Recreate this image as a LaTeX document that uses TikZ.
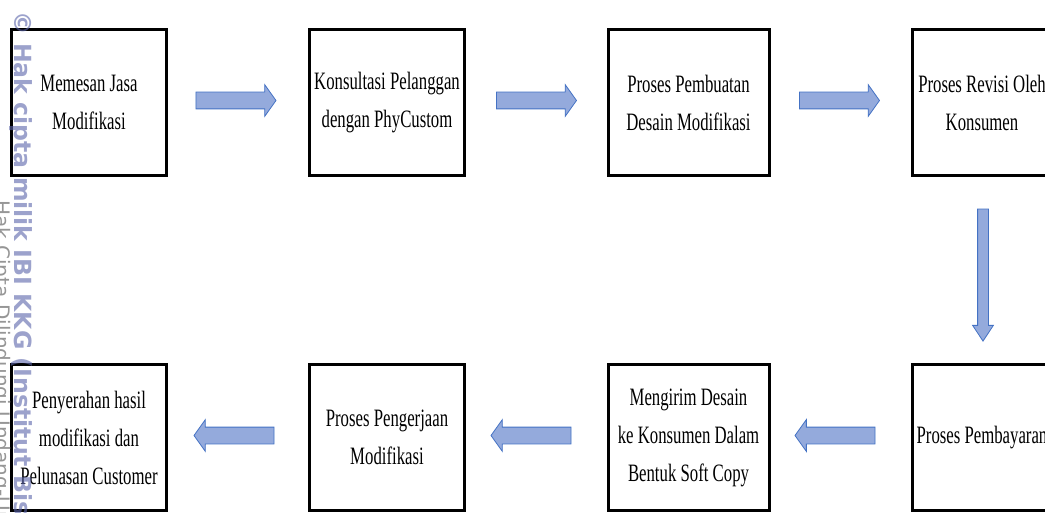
\documentclass[tikz,border=0pt]{standalone}
\usepackage{fontspec}
\setmainfont{Liberation Serif}[FakeStretch=0.67]
\newfontfamily\wmfont{DejaVu Sans}
\usetikzlibrary{shapes.arrows}
\definecolor{arrowfill}{RGB}{148,170,220}
\definecolor{arrowline}{RGB}{68,114,196}
\definecolor{wmblue}{RGB}{90,100,170}
\definecolor{wmgray}{RGB}{150,150,150}
\begin{document}
\begin{tikzpicture}[x=1pt,y=-1pt,
  box/.style={draw=black, line width=3pt, minimum height=146pt, inner sep=0pt,
    align=center, font=\fontsize{25}{38}\selectfont},
  blockarrow/.style={single arrow, draw=arrowline, fill=arrowfill, line width=0.8pt},
  harrow/.style={blockarrow, inner xsep=0pt, inner ysep=8pt, minimum height=80pt,
    single arrow head extend=7.5pt, single arrow tip angle=109},
  varrow/.style={blockarrow, inner sep=5pt, minimum height=132pt,
    single arrow head extend=5pt, single arrow tip angle=67, shape border rotate=270},
  wmmain/.style={rotate=-90, anchor=base west, inner sep=0pt, text=wmblue, opacity=0.6,
    font=\wmfont\bfseries\fontsize{23.6}{23.6}\selectfont},
  wmthin/.style={rotate=-90, anchor=base west, inner sep=0pt, text=wmgray,
    font=\wmfont\fontsize{20}{20}\selectfont}
]
\useasboundingbox (0,0) rectangle (1045,513);
\clip (0,0) rectangle (1045,513);
\fill[white] (0,0) rectangle (1045,513);

% top row
\node[box, minimum width=155pt] (b1) at (89,102.5) {Memesan Jasa\\Modifikasi};
\node[box, minimum width=155pt] (b2) at (387,102.5) {Konsultasi Pelanggan\\dengan PhyCustom};
\node[box, minimum width=161pt] (b3) at (688.5,102.5) {Proses Pembuatan\\Desain Modifikasi};
\node[box, minimum width=140pt] (b4) at (982,102.5) {Proses Revisi Oleh\\Konsumen};

% bottom row
\node[box, minimum width=155pt] (b5) at (89,437.5) {Penyerahan hasil\\modifikasi dan\\Pelunasan Customer};
\node[box, minimum width=155pt] (b6) at (387,437.5) {Proses Pengerjaan\\Modifikasi};
\node[box, minimum width=161pt] (b7) at (688.5,437.5) {Mengirim Desain\\ke Konsumen Dalam\\Bentuk Soft Copy};
\node[box, minimum width=140pt] (b8) at (982,437.5) {Proses Pembayaran};

% block arrows
\node[harrow] (a1) at (233,100.5) {};
\node[harrow] (a2) at (533.5,100.5) {};
\node[harrow] (a3) at (836.5,100.5) {};
\node[varrow] (a4) at (983,271) {};
\node[harrow, shape border rotate=180] (a5) at (838,435.5) {};
\node[harrow, shape border rotate=180] (a6) at (534,435.5) {};
\node[harrow, shape border rotate=180] (a7) at (237,435.5) {};

% watermark
\node[wmthin] (wm2) at (-5,200) {Hak Cipta Dilindungi Undang-Undang};
\node[wmmain] (wm1) at (14.5,11) {© Hak cipta milik IBI KKG (Institut Bisnis dan Informatika Kwik Kian Gie)};
\end{tikzpicture}
\end{document}
